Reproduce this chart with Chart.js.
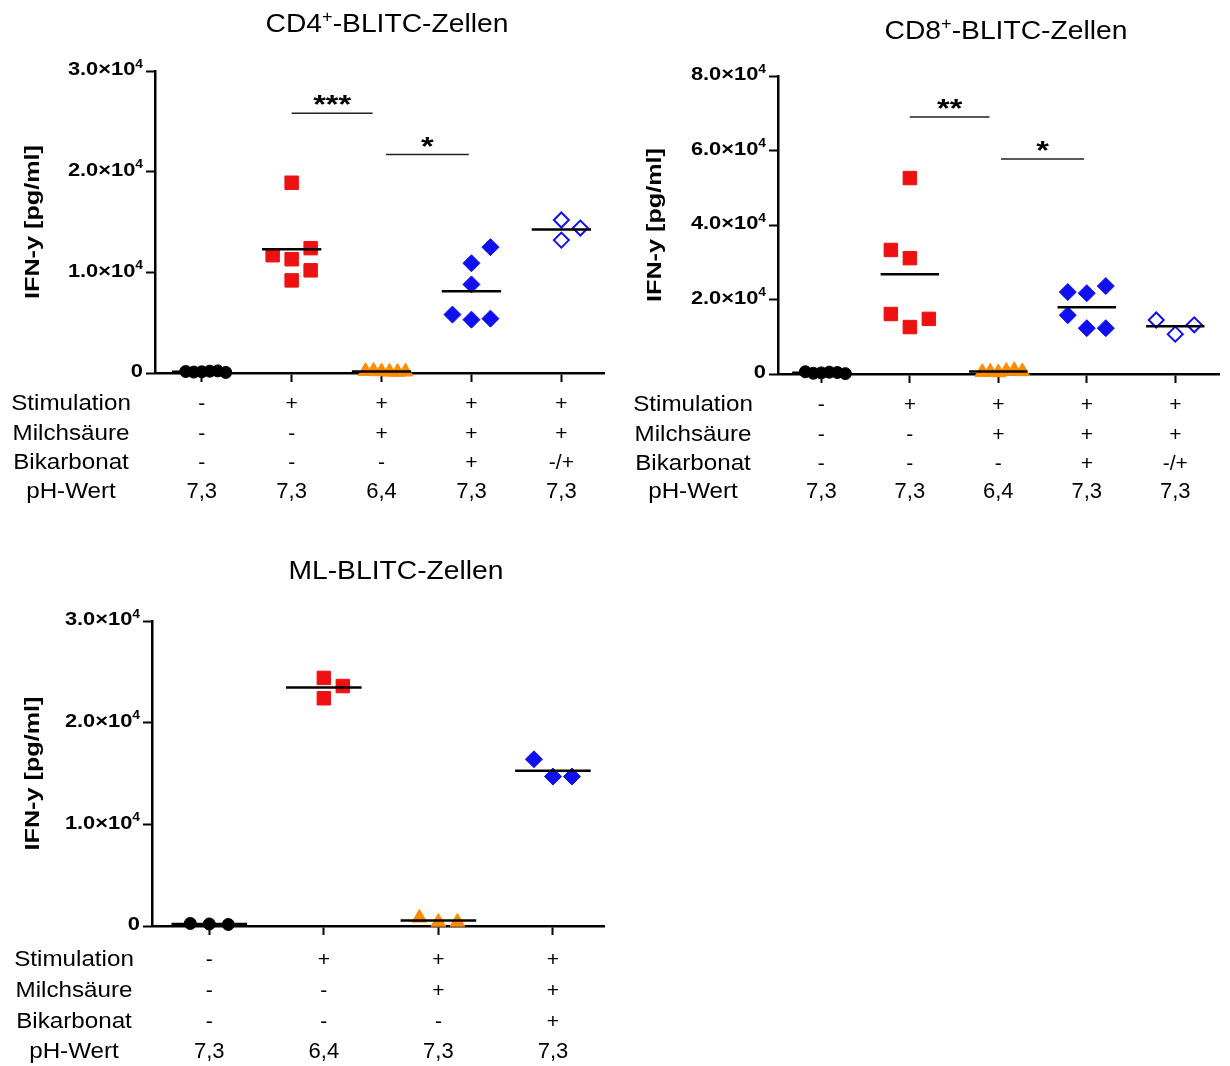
<!DOCTYPE html>
<html>
<head>
<meta charset="utf-8">
<script src="https://cdn.jsdelivr.net/npm/chart.js@4"></script>
<style>
  body { margin: 0; background: #fff; width: 1230px; height: 1066px; position: relative; overflow: hidden; }
  canvas { position: absolute; }
</style>
</head>
<body>
<canvas id="cd4" width="615" height="520" style="left:0;top:0"></canvas>
<canvas id="cd8" width="615" height="520" style="left:615px;top:0"></canvas>
<canvas id="ml" width="615" height="536" style="left:0;top:530px"></canvas>
<script>
// table rows under the x axis
const rowLabels = ["Stimulation", "Milchsäure", "Bikarbonat", "pH-Wert"];

const stimulation5 = ["-", "+", "+", "+", "+"];
const lactate5 = ["-", "-", "+", "+", "+"];
const bicarbonate5 = ["-", "-", "-", "+", "-/+"];
const ph5 = ["7,3", "7,3", "6,4", "7,3", "7,3"];

const stimulationMl = ["-", "+", "+", "+"];
const lactateMl = ["-", "-", "+", "+"];
const bicarbonateMl = ["-", "-", "-", "+"];
const phMl = ["7,3", "6,4", "7,3", "7,3"];

// IFN-y [pg/ml], one value per well
const cd4Control = [120, 180, 90, 210, 150, 60];
const cd4Stim = [9200, 10200, 11300, 11700, 12400, 18900];
const cd4Lactate = [150, 120, 200, 100, 180, 130];
const cd4Bicarb = [5300, 5400, 5800, 8800, 10900, 12500];
const cd4BicarbMix = [13200, 14400, 15200];

const cd8Control = [300, 500, 200, 400, 600, 100];
const cd8Stim = [12600, 14800, 31100, 33300, 16100, 52600];
const cd8Lactate = [400, 800, 600, 1000, 500, 700];
const cd8Bicarb = [12300, 12300, 15800, 21700, 23600, 22000];
const cd8BicarbMix = [10700, 13200, 14500];

const mlControl = [200, 150, 250];
const mlStim = [22400, 24400, 23600];
const mlLactate = [400, 400, 800];
const mlBicarb = [14700, 14700, 16400];

const cd4Ticks = [0, 10000, 20000, 30000];
const cd8Ticks = [0, 20000, 40000, 60000, 80000];
const mlTicks = [0, 10000, 20000, 30000];

// significance bars: from / to group, height, stars
const cd4Sig = [
    { from: 1, to: 1.9, y: 25800, label: "***" },
    { from: 2.05, to: 2.97, y: 21700, label: "*" },
];
const cd8Sig = [
    { from: 1, to: 1.9, y: 69000, label: "**" },
    { from: 2.03, to: 2.97, y: 57700, label: "*" },
];

const FONT = '"Liberation Sans", Arial, sans-serif';
const CLEARANCE = 19;
const STEP = 19;
const MAX_SPREAD = 40;

const marker = {
    circle: { shape: "circle", r: 6, fill: "#000", line: "#000", bw: 1 },
    square: { shape: "rect", r: 9.5, fill: "#ee1111", line: "#ee1111", bw: 1 },
    triangle: { shape: "triangle", r: 8.5, fill: "#ff8c00", line: "#ff8c00", bw: 1 },
    diamond: { shape: "rectRot", r: 8.5, fill: "#1010ee", line: "#1010ee", bw: 1 },
    openDiamond: { shape: "rectRot", r: 7.5, fill: "#fff", line: "#1010ee", bw: 2 },
};

function drawParts(ctx, parts, x, y, size, weight, sx, align) {
    const font = (s) => `${weight} ${s}px ${FONT}`;
    const supSize = Math.round(size * 0.62);
    const widths = parts.map((p) => {
        ctx.font = font(p.sup ? supSize : size);
        return ctx.measureText(p.t).width * sx;
    });
    const total = widths.reduce((a, b) => a + b, 0);
    let cx = align === "center" ? x - total / 2 : align === "right" ? x - total : x;
    parts.forEach((p, i) => {
        ctx.font = font(p.sup ? supSize : size);
        ctx.save();
        ctx.translate(cx, p.sup ? y - size * 0.3 : y);
        ctx.scale(sx, 1);
        ctx.textAlign = "left";
        ctx.fillText(p.t, 0, 0);
        ctx.restore();
        cx += widths[i];
    });
}

// spread replicate points sideways when they would overlap (column scatter)
function spread(chart) {
    const xs = chart.scales.x;
    const ys = chart.scales.y;
    const unit = xs.getPixelForValue(1) - xs.getPixelForValue(0);

    chart.data.datasets.forEach((ds) => {
        if (!ds.values) {
            return;
        }
        const placed = [];
        let moves = 0;
        ds.values.forEach((v) => {
            const py = ys.getPixelForValue(v);
            const free = (k) => placed.every((p) => p.k !== k || Math.abs(p.py - py) >= CLEARANCE);
            let slot = 0;
            if (!free(0)) {
                for (let k = 1; k < 10; k++) {
                    const tries = moves % 2 ? [-k, k] : [k, -k];
                    const hit = tries.find(free);
                    if (hit !== undefined) {
                        slot = hit;
                        break;
                    }
                }
                moves++;
            }
            placed.push({ k: slot, py, v });
        });
        const ks = placed.map((p) => p.k);
        const span = Math.max(...ks) - Math.min(...ks);
        const step = Math.min(STEP, span ? MAX_SPREAD / span : STEP);
        ds.data = placed.map((p) => ({ x: ds.group + (p.k * step) / unit, y: p.v }));
    });

    chart.update("none");
}

function makeChart(id, c) {
    const datasets = [];

    c.groups.forEach((g, i) => {
        const mean = g.values.reduce((a, b) => a + b, 0) / g.values.length;
        datasets.push({
            data: [{ x: i - 0.33, y: mean }, { x: i + 0.33, y: mean }],
            showLine: true,
            borderColor: "#000",
            borderWidth: 2.5,
            pointRadius: 0,
            clip: false,
        });
    });

    c.sig.forEach((s) => {
        datasets.push({
            data: [{ x: s.from, y: s.y }, { x: s.to, y: s.y }],
            showLine: true,
            borderColor: "#222",
            borderWidth: 1.5,
            pointRadius: 0,
        });
    });

    c.groups.forEach((g, i) => {
        datasets.push({
            group: i,
            values: g.values,
            data: g.values.map((v) => ({ x: i, y: v })),
            pointStyle: g.style.shape,
            pointRadius: g.style.r,
            backgroundColor: g.style.fill,
            borderColor: g.style.line,
            borderWidth: g.style.bw,
            showLine: false,
            clip: false,
        });
    });

    const decor = {
        id: "decor",
        afterDraw(chart) {
            const { ctx, chartArea, scales: { x, y } } = chart;
            ctx.save();
            ctx.fillStyle = "#000";
            ctx.textBaseline = "middle";

            // title
            drawParts(ctx, c.title, c.titleX, c.titleY, 25, "normal", 1.13, "center");

            // y tick labels
            c.ticks.forEach((v) => {
                const parts = v === 0
                    ? [{ t: "0" }]
                    : [{ t: (v / 10000).toFixed(1) + "×10" }, { t: "4", sup: true }];
                drawParts(ctx, parts, chartArea.left - 12, y.getPixelForValue(v) - 1, 19, "bold", 1.15, "right");
            });

            // y title
            ctx.save();
            ctx.translate(c.yTitleX, (chartArea.top + chartArea.bottom) / 2);
            ctx.rotate(-Math.PI / 2);
            drawParts(ctx, [{ t: "IFN-y [pg/ml]" }], 0, 0, 21, "bold", 1.2, "center");
            ctx.restore();

            // significance stars
            ctx.textBaseline = "alphabetic";
            c.sig.forEach((s) => {
                const cx = x.getPixelForValue((s.from + s.to) / 2);
                const cy = y.getPixelForValue(s.y) - 15;
                drawParts(ctx, [{ t: s.label }], cx, cy + 26 * 0.575, 26, "bold", 1.25, "center");
            });
            ctx.textBaseline = "middle";

            // condition table
            c.table.forEach((row, r) => {
                drawParts(ctx, [{ t: rowLabels[r] }], c.labelX, c.rowY[r], 22, "normal", 1.1, "center");
                row.forEach((cell, i) => {
                    drawParts(ctx, [{ t: cell }], x.getPixelForValue(i), c.rowY[r], r === 3 ? 22 : 21, "normal", 1.0, "center");
                });
            });

            ctx.restore();
        },
    };

    const axisGrid = { drawOnChartArea: false, tickLength: 9, tickWidth: 2, tickColor: "#000" };
    const axisBorder = { color: "#000", width: 2.5 };

    const chart = new Chart(document.getElementById(id), {
        type: "scatter",
        data: { datasets },
        options: {
            responsive: false,
            animation: false,
            events: [],
            layout: { padding: { top: c.area.top, right: c.area.right, left: 0, bottom: 0 } },
            plugins: { legend: { display: false }, tooltip: { enabled: false } },
            scales: {
                x: {
                    type: "linear",
                    min: c.xMin,
                    max: c.xMax,
                    afterFit: (s) => { s.height = c.area.bottom; },
                    afterBuildTicks: (s) => { s.ticks = c.groups.map((g, i) => ({ value: i })); },
                    ticks: { display: false },
                    grid: axisGrid,
                    border: axisBorder,
                },
                y: {
                    type: "linear",
                    min: 0,
                    max: c.ticks[c.ticks.length - 1],
                    afterFit: (s) => { s.width = c.area.left; },
                    afterBuildTicks: (s) => { s.ticks = c.ticks.map((v) => ({ value: v })); },
                    ticks: { display: false },
                    grid: axisGrid,
                    border: axisBorder,
                },
            },
        },
        plugins: [decor],
    });

    spread(chart);
}

makeChart("cd4", {
    title: [{ t: "CD4" }, { t: "+", sup: true }, { t: "-BLITC-Zellen" }],
    titleX: 387, titleY: 25,
    yTitleX: 33,
    labelX: 71,
    rowY: [404, 434, 463, 492],
    area: { left: 155, top: 71, right: 6, bottom: 147 },
    xMin: -0.52, xMax: 4.48,
    ticks: cd4Ticks,
    sig: cd4Sig,
    table: [stimulation5, lactate5, bicarbonate5, ph5],
    groups: [
        { values: cd4Control, style: marker.circle },
        { values: cd4Stim, style: marker.square },
        { values: cd4Lactate, style: marker.triangle },
        { values: cd4Bicarb, style: marker.diamond },
        { values: cd4BicarbMix, style: marker.openDiamond },
    ],
});

makeChart("cd8", {
    title: [{ t: "CD8" }, { t: "+", sup: true }, { t: "-BLITC-Zellen" }],
    titleX: 391, titleY: 32,
    yTitleX: 40,
    labelX: 78,
    rowY: [405, 435, 464, 492],
    area: { left: 163, top: 76, right: 0, bottom: 146 },
    xMin: -0.49, xMax: 4.5,
    ticks: cd8Ticks,
    sig: cd8Sig,
    table: [stimulation5, lactate5, bicarbonate5, ph5],
    groups: [
        { values: cd8Control, style: marker.circle },
        { values: cd8Stim, style: marker.square },
        { values: cd8Lactate, style: marker.triangle },
        { values: cd8Bicarb, style: marker.diamond },
        { values: cd8BicarbMix, style: marker.openDiamond },
    ],
});

makeChart("ml", {
    title: [{ t: "ML-BLITC-Zellen" }],
    titleX: 396, titleY: 42,
    yTitleX: 33,
    labelX: 74,
    rowY: [430, 461, 492, 522],
    area: { left: 152, top: 91, right: 6, bottom: 140 },
    xMin: -0.5, xMax: 3.45,
    ticks: mlTicks,
    sig: [],
    table: [stimulationMl, lactateMl, bicarbonateMl, phMl],
    groups: [
        { values: mlControl, style: marker.circle },
        { values: mlStim, style: marker.square },
        { values: mlLactate, style: marker.triangle },
        { values: mlBicarb, style: marker.diamond },
    ],
});
</script>
</body>
</html>
